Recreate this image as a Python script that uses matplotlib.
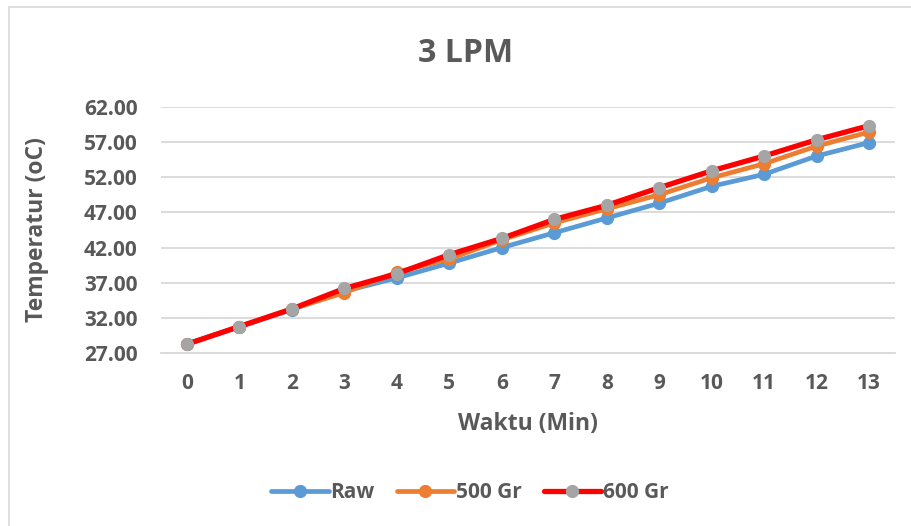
import matplotlib
matplotlib.use("Agg")
import matplotlib.pyplot as plt
from matplotlib.patches import Rectangle

minutes = list(range(14))
raw = [28.3, 30.8, 33.2, 35.8, 37.7, 39.8, 42.0, 44.1, 46.2, 48.3, 50.7, 52.4, 55.0, 56.9]
gr500 = [28.3, 30.8, 33.3, 35.6, 38.5, 40.4, 43.1, 45.5, 47.5, 49.5, 51.9, 53.9, 56.4, 58.4]
gr600 = [28.3, 30.8, 33.3, 36.2, 38.3, 41.0, 43.3, 46.0, 48.0, 50.5, 52.9, 55.0, 57.3, 59.3]
yticks = [27, 32, 37, 42, 47, 52, 57, 62]

plt.rcParams['font.family'] = ['Open Sans', 'DejaVu Sans']
txt = '#595959'
W, H = 912, 526
fig = plt.figure(figsize=(W / 100, H / 100), dpi=100)

ax = fig.add_axes([160.75 / W, 1 - 353.3 / H, (895.25 - 160.75) / W, (353.3 - 106.7) / H])
ax.set_xlim(-0.5, 13.5)
ax.set_ylim(27, 62)
ax.set_yticks(yticks)
ax.set_yticklabels([f"{v:.2f}" for v in yticks])
ax.set_xticks(minutes)
ax.set_xticklabels([str(m) for m in minutes])
ax.grid(axis='y', color='#D9D9D9', lw=1.3)
ax.set_axisbelow(True)
for s in ['top', 'right', 'left']:
    ax.spines[s].set_visible(False)
ax.spines['bottom'].set_color('#D9D9D9')
ax.spines['bottom'].set_linewidth(1.3)
ax.tick_params(length=0, labelsize=15, labelcolor=txt)
for lab in ax.get_xticklabels() + ax.get_yticklabels():
    lab.set_fontweight('bold')
ax.tick_params(axis='y', pad=16.5)
ax.tick_params(axis='x', pad=14)

ax.plot(minutes, raw, color='#5B9BD5', lw=3.4, marker='o', ms=8.5,
        mfc='#5B9BD5', mec='#5B9BD5', label='Raw', solid_capstyle='round')
ax.plot(minutes, gr500, color='#ED7D31', lw=3.4, marker='o', ms=8.5,
        mfc='#ED7D31', mec='#ED7D31', label='500 Gr', solid_capstyle='round')
ax.plot(minutes, gr600, color='#FF0000', lw=3.8, marker='o', ms=8.5,
        mfc='#A5A5A5', mec='#A5A5A5', label='600 Gr', solid_capstyle='round')

fig.text(528 / W, 1 - 424 / H, 'Waktu (Min)', ha='center', va='center', fontsize=16.5,
         fontweight='bold', color=txt)
fig.text(37 / W, 1 - 230 / H, 'Temperatur (oC)', ha='center', va='center', fontsize=16.5,
         fontweight='bold', color=txt, rotation=90)

fig.text(466 / W, 1 - 53 / H, '3 LPM', ha='center', va='center', fontsize=23,
         fontweight='bold', color=txt)

leg = fig.legend(loc='center', bbox_to_anchor=(470 / W, 1 - 493 / H), ncol=3,
                 frameon=False, fontsize=15, handlelength=2.75, columnspacing=1.05,
                 handletextpad=0.1)
for t in leg.get_texts():
    t.set_fontweight('bold')
    t.set_color(txt)

fig.patches.append(Rectangle((9 / W, -0.1), 1.2, 1 - 7 / H + 0.1, transform=fig.transFigure,
                             fill=False, edgecolor='#D9D9D9', lw=1.2))

fig.savefig('out.png', dpi=100)
